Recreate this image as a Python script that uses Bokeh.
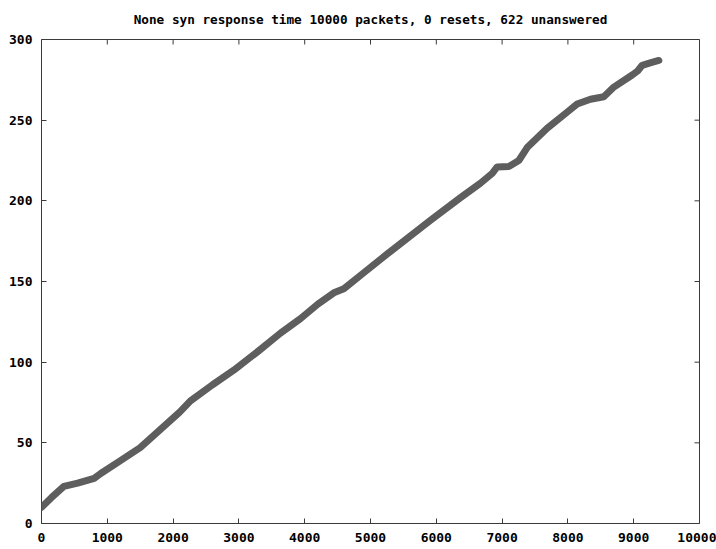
from bokeh.plotting import figure
from bokeh.models import Range1d, LinearAxis, FixedTicker
from bokeh.embed import file_html
from bokeh.resources import INLINE

title_text = "None syn response time 10000 packets, 0 resets, 622 unanswered"

packet_index = [0, 150, 340, 550, 800, 900, 1200, 1500, 1910, 2100, 2264, 2600, 2922,
                3300, 3632, 3936, 4200, 4443, 4595, 4900, 5253, 5600, 5912, 6368,
                6672, 6850, 6925, 7102, 7254, 7381, 7685, 7989, 8141, 8343, 8546, 8698,
                8977, 9060, 9129, 9250, 9382]
response_time = [10, 16, 23, 25, 28, 31, 39, 47, 62, 69, 76, 86, 95,
                 107, 118, 127, 136, 143, 145.5, 155.5, 167, 178, 188, 202,
                 211, 217, 221, 221.3, 225, 233, 245, 255, 260, 263, 264.5, 270.5,
                 278, 280.5, 284, 285.5, 287]

x_ticks = [0, 1000, 2000, 3000, 4000, 5000, 6000, 7000, 8000, 9000, 10000]
y_ticks = [0, 50, 100, 150, 200, 250, 300]
x_max = 10000
y_max = 300

FONT = "DejaVu Sans Mono"
BORDER = "#3a3a3a"

p = figure(width=716, height=549, output_backend="svg", toolbar_location=None,
           x_range=Range1d(0, x_max), y_range=Range1d(0, y_max),
           x_axis_location=None, y_axis_location=None,
           min_border_left=41, min_border_right=17, min_border_top=39, min_border_bottom=26)

p.title.text = title_text
p.title.align = "center"
p.title.vertical_align = "top"
p.title.offset = -2
p.title.text_font = FONT
p.title.text_font_style = "bold"
p.title.text_font_size = "12.7px"
p.title.text_color = "black"
p.title.standoff = 21

p.grid.visible = False
p.outline_line_color = BORDER
p.outline_line_width = 1
p.background_fill_color = "white"
p.border_fill_color = "white"


def style_axis(ax, standoff):
    ax.axis_line_color = None
    ax.major_tick_line_color = BORDER
    ax.major_tick_in = 5
    ax.major_tick_out = 0
    ax.minor_tick_line_color = None
    ax.major_label_standoff = standoff
    ax.major_label_text_font = FONT
    ax.major_label_text_font_style = "bold"
    ax.major_label_text_font_size = "13px"
    ax.major_label_text_color = "black"


xb = LinearAxis(ticker=FixedTicker(ticks=x_ticks))
style_axis(xb, 9)
p.add_layout(xb, "below")
yl = LinearAxis(ticker=FixedTicker(ticks=y_ticks))
style_axis(yl, 9)
p.add_layout(yl, "left")

# mirrored ticks on the top and right borders
p.ray(x=x_ticks, y=[y_max] * len(x_ticks), length=5, length_units="screen",
      angle=-90, angle_units="deg", line_color=BORDER, line_width=1)
p.ray(x=[x_max] * len(y_ticks), y=y_ticks, length=5, length_units="screen",
      angle=180, angle_units="deg", line_color=BORDER, line_width=1)

p.line(packet_index, response_time, line_width=7, line_color="#5e5e5e",
       line_join="round", line_cap="round")

open("out.html", "w").write(file_html(p, INLINE))
